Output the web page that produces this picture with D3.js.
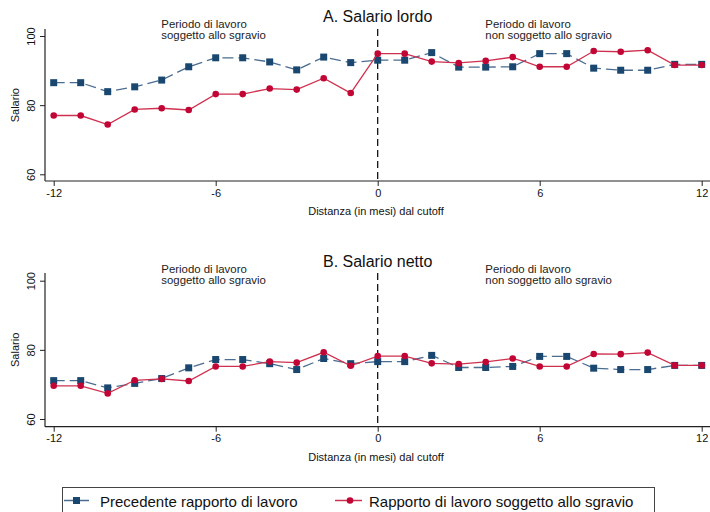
<!DOCTYPE html>
<html>
<head>
<meta charset="utf-8">
<script src="https://cdn.jsdelivr.net/npm/d3@7"></script>
<style>
  html, body { margin: 0; padding: 0; background: #fff; }
  svg { display: block; font-family: "Liberation Sans", Arial, sans-serif; }
</style>
</head>
<body>
<svg id="chart" width="710" height="512"></svg>
<script>
// Months relative to the cutoff
const months = [-12,-11,-10,-9,-8,-7,-6,-5,-4,-3,-2,-1,0,1,2,3,4,5,6,7,8,9,10,11,12];

// A. Salario lordo
const lordoPrecedente = [86.5,86.5,83.9,85.3,87.25,91.1,93.7,93.7,92.5,90.2,93.9,92.3,93.0,93.0,95.2,91.0,91.0,91.1,94.9,94.9,90.7,90.1,90.1,91.8,91.8];
const lordoSgravio    = [77.0,77.0,74.4,78.75,79.1,78.6,83.2,83.2,84.8,84.5,87.8,83.5,94.9,94.9,92.6,92.2,92.8,93.9,91.1,91.1,95.65,95.45,95.9,91.6,91.6];

// B. Salario netto
const nettoPrecedente = [71.1,71.1,69.0,70.3,71.7,74.8,77.2,77.2,76.0,74.3,77.5,76.0,76.6,76.6,78.4,74.9,74.9,75.2,78.1,78.1,74.7,74.3,74.3,75.5,75.5];
const nettoSgravio    = [69.6,69.6,67.4,71.2,71.6,71.0,75.2,75.2,76.6,76.3,79.3,75.4,78.2,78.2,76.1,75.9,76.5,77.5,75.2,75.2,78.8,78.75,79.2,75.5,75.5];

const xTicks = [-12,-6,0,6,12];
const yTicks = [60,80,100];
const panelTitles = ["A. Salario lordo", "B. Salario netto"];
const seriesNames = ["Precedente rapporto di lavoro", "Rapporto di lavoro soggetto allo sgravio"];
const noteLeft = ["Periodo di lavoro", "soggetto allo sgravio"];
const noteRight = ["Periodo di lavoro", "non soggetto allo sgravio"];
const xTitle = "Distanza (in mesi) dal cutoff";
const yTitle = "Salario";

const NAVY = "#1a476f";
const CRANBERRY = "#c10534";

const svg = d3.select("#chart");

const x = d3.scaleLinear().domain([-12, 12]).range([53.7, 701.7]);

const panels = [
  { title: panelTitles[0], prec: lordoPrecedente, sgr: lordoSgravio,
    top: 29, bottom: 181, yRange: [174.3, 36], titleY: 22, noteY: 28 },
  { title: panelTitles[1], prec: nettoPrecedente, sgr: nettoSgravio,
    top: 273, bottom: 426.7, yRange: [419, 280.7], titleY: 267, noteY: 272.7 }
];

panels.forEach(p => {
  const g = svg.append("g");
  const y = d3.scaleLinear().domain([60, 100]).range(p.yRange);

  // panel title
  g.append("text").attr("x", 377.7).attr("y", p.titleY)
    .attr("text-anchor", "middle").attr("font-size", 16).attr("fill", "#111")
    .text(p.title);

  // notes on either side of the cutoff
  [[noteLeft, 161.3], [noteRight, 485.3]].forEach(([lines, nx]) => {
    lines.forEach((t, i) => {
      g.append("text").attr("x", nx).attr("y", p.noteY + i * 11)
        .attr("font-size", 11.4).attr("fill", "#222").text(t);
    });
  });

  // x axis
  const xAxis = d3.axisBottom(x).tickValues(xTicks).tickSize(5).tickPadding(3)
    .tickFormat(d => d < 0 ? "-" + Math.abs(d) : String(d));
  const gx = g.append("g").attr("transform", `translate(0,${p.bottom})`).call(xAxis);
  gx.select(".domain").remove();
  gx.append("line").attr("x1", 45).attr("x2", 710).attr("y1", 0).attr("y2", 0)
    .attr("stroke", "#222").attr("stroke-width", 1.2);
  gx.selectAll(".tick line").attr("stroke", "#222");
  gx.selectAll(".tick text").attr("font-size", 11).attr("fill", "#111")
    .attr("font-family", "Liberation Sans, Arial, sans-serif");

  // x title
  g.append("text").attr("x", 376).attr("y", p.bottom + 34)
    .attr("text-anchor", "middle").attr("font-size", 11).attr("fill", "#111")
    .text(xTitle);

  // y axis
  const yAxis = d3.axisLeft(y).tickValues(yTicks).tickSize(5).tickPadding(0).tickFormat(d3.format("d"));
  const gy = g.append("g").attr("transform", "translate(45,0)").call(yAxis);
  gy.select(".domain").remove();
  gy.append("line").attr("x1", 0).attr("x2", 0).attr("y1", p.top).attr("y2", p.bottom)
    .attr("stroke", "#222").attr("stroke-width", 1.2);
  gy.selectAll(".tick line").attr("stroke", "#222");
  gy.selectAll(".tick text")
    .attr("x", 0).attr("dy", null).attr("text-anchor", "middle")
    .attr("transform", "translate(-10,0) rotate(-90)")
    .attr("font-size", 11).attr("fill", "#111")
    .attr("font-family", "Liberation Sans, Arial, sans-serif");

  // y title
  g.append("text")
    .attr("transform", `translate(18.5,${(p.yRange[0] + p.yRange[1]) / 2}) rotate(-90)`)
    .attr("text-anchor", "middle").attr("font-size", 11).attr("fill", "#111")
    .text(yTitle);

  // cutoff line
  g.append("line").attr("x1", x(0)).attr("x2", x(0)).attr("y1", p.top).attr("y2", p.bottom)
    .attr("stroke", "#000").attr("stroke-width", 1.2).attr("stroke-dasharray", "7,4");

  const line = d3.line().x((d, i) => x(months[i])).y(d => y(d));

  // previous employment: dashed navy with squares
  g.append("path").datum(p.prec).attr("d", line)
    .attr("fill", "none").attr("stroke", "#4a6d91").attr("stroke-width", 1.3)
    .attr("stroke-dasharray", "11,5");
  g.selectAll(".sq").data(p.prec).enter().append("rect")
    .attr("x", (d, i) => x(months[i]) - 3.5).attr("y", d => y(d) - 3.5)
    .attr("width", 7).attr("height", 7).attr("fill", NAVY);

  // subsidised employment: solid cranberry with dots
  g.append("path").datum(p.sgr).attr("d", line)
    .attr("fill", "none").attr("stroke", "#d0304f").attr("stroke-width", 1.3);
  g.selectAll(".dot").data(p.sgr).enter().append("circle")
    .attr("cx", (d, i) => x(months[i])).attr("cy", d => y(d))
    .attr("r", 3.3).attr("fill", CRANBERRY);
});

// legend
const lg = svg.append("g");
lg.append("rect").attr("x", 62.5).attr("y", 487.5).attr("width", 592).attr("height", 40)
  .attr("fill", "#fff").attr("stroke", "#444").attr("stroke-width", 1);

lg.append("line").attr("x1", 64).attr("x2", 89).attr("y1", 500.5).attr("y2", 500.5)
  .attr("stroke", "#4a6d91").attr("stroke-width", 1.5);
lg.append("rect").attr("x", 73).attr("y", 497).attr("width", 7).attr("height", 7).attr("fill", NAVY);
lg.append("text").attr("x", 100).attr("y", 506.5).attr("font-size", 15).attr("fill", "#111")
  .text(seriesNames[0]);

lg.append("line").attr("x1", 335).attr("x2", 362).attr("y1", 500.5).attr("y2", 500.5)
  .attr("stroke", "#d0304f").attr("stroke-width", 1.5);
lg.append("circle").attr("cx", 350).attr("cy", 500.5).attr("r", 3.3).attr("fill", CRANBERRY);
lg.append("text").attr("x", 369).attr("y", 506.5).attr("font-size", 15).attr("fill", "#111")
  .text(seriesNames[1]);
</script>
</body>
</html>
